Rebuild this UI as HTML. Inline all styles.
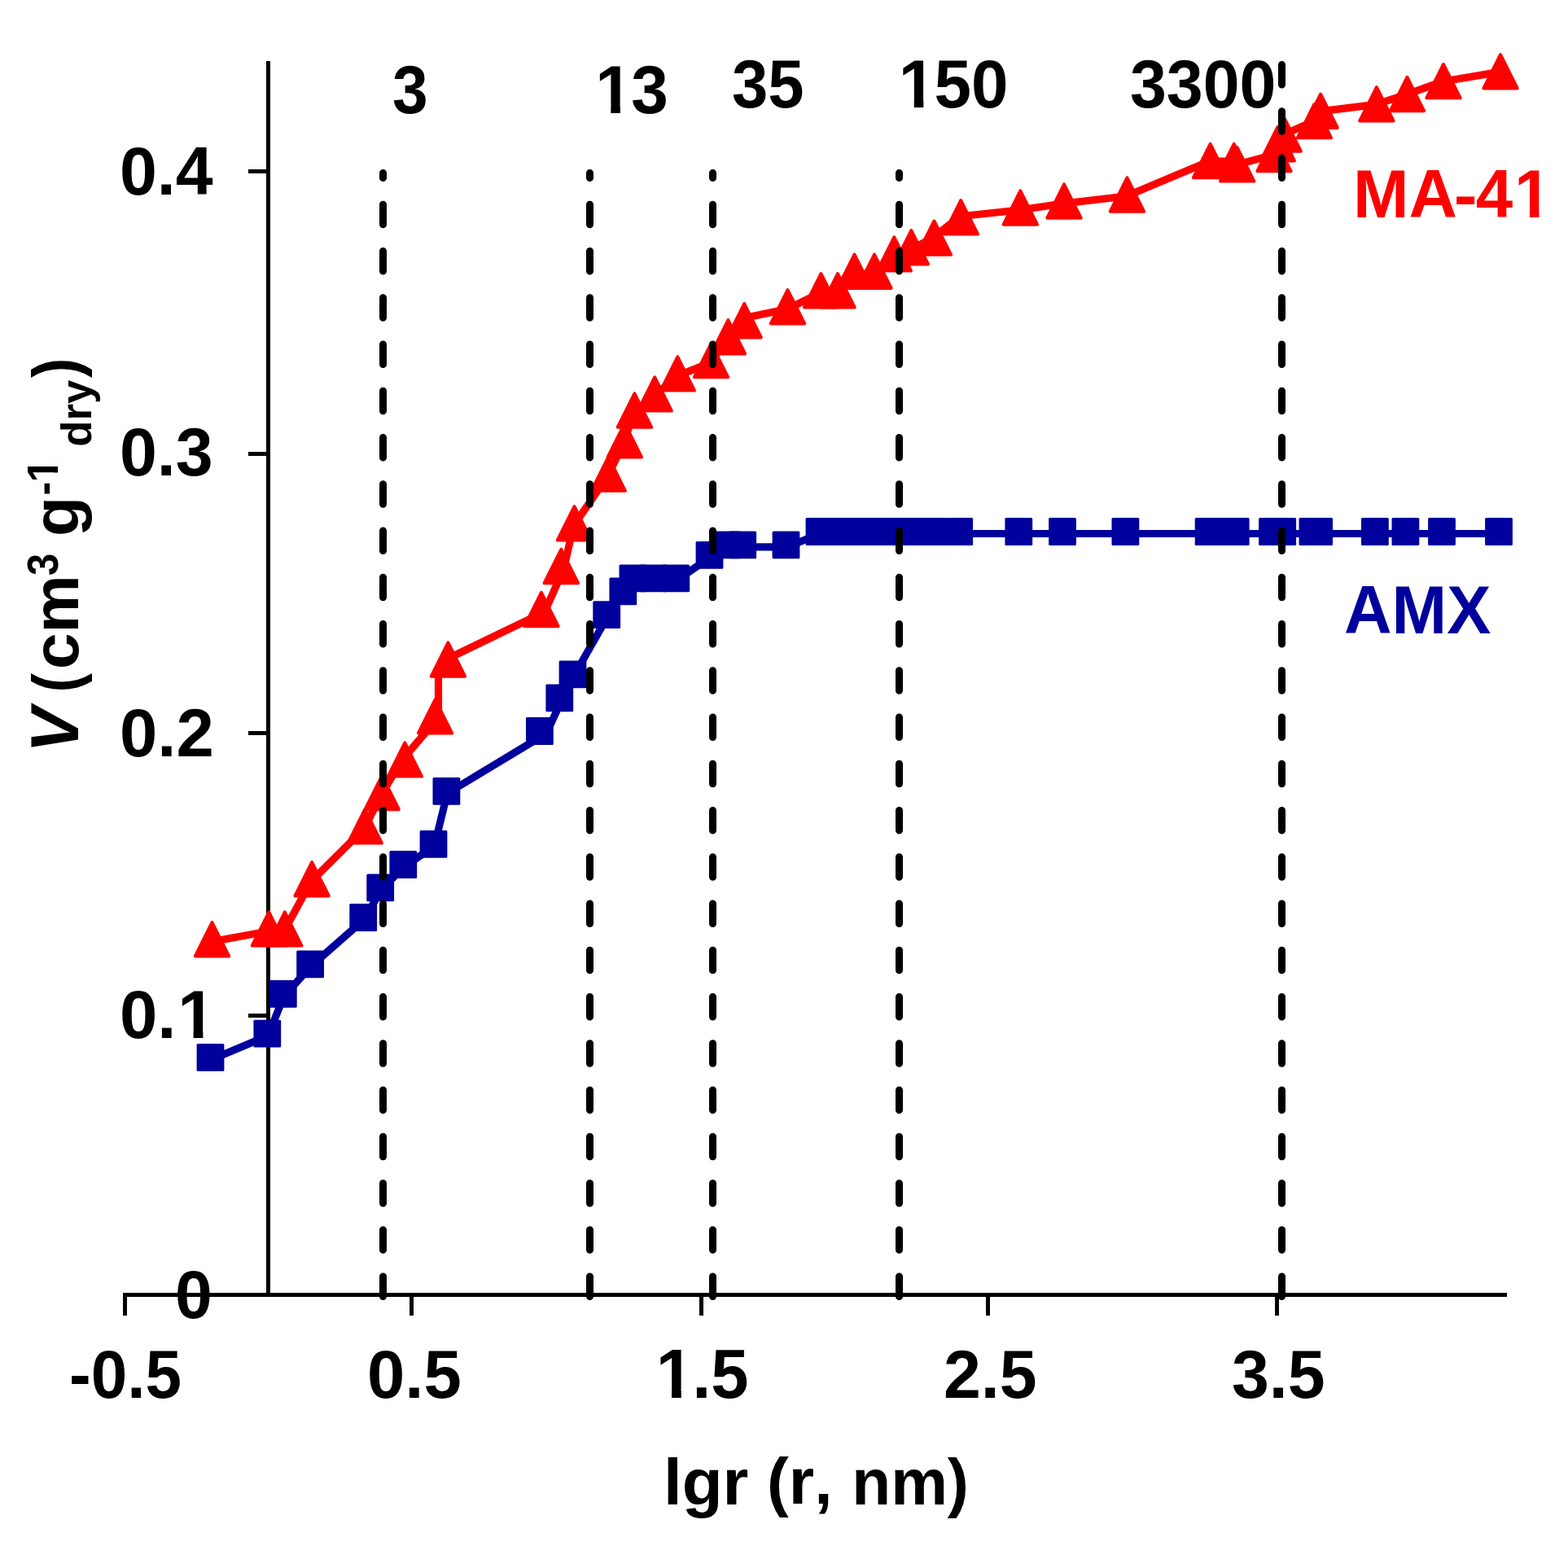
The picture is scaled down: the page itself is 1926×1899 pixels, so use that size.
<!DOCTYPE html><html><head><meta charset="utf-8"><title>Pore volume chart</title><style>html,body{margin:0;padding:0;background:#fff;width:1926px;height:1899px;overflow:hidden}svg{display:block}</style></head><body>
<svg width="1926" height="1899" viewBox="0 0 1926 1899" font-family='"Liberation Sans", Arial, sans-serif' font-weight="bold" style="font-kerning:none">
<rect width="1926" height="1899" fill="#fff"/>
<path d="M329.5 75V1593 M153 1590.5H1851 M305 210.5H329.5 M305 557.4H329.5 M305 900.5H329.5 M305 1247.5H329.5 M305 1590.5H329.5 M153.5 1588V1616 M505.5 1588V1616 M861.5 1588V1616 M1213.5 1588V1616 M1568.5 1588V1616" stroke="#000" stroke-width="5" fill="none"/>
<path d="M259.5 1301.4 L329.3 1272.2 L348.8 1223.3 L382.1 1186.8 L447.2 1129.5 L468.2 1092.9 L496.3 1064.5 L533.5 1039.4 L549.4 974.4 L671 901 L690 859.9 L704.5 830.9 L746.2 757.6 L766.3 728.9 L778.4 712.8 L803.2 712.8 L831.3 712.8 L872.5 684.4 L893.4 671.9 L913.2 671.9 L966.5 671.9 L1007.5 655.5 L1028 655.5 L1048.5 655.5 L1073 655.5 L1097.3 655.5 L1118.3 655.5 L1146.4 655.5 L1179.2 655.5 L1252.3 655.5 L1306 655.5 L1383.4 655.5 L1485.6 655.5 L1514.7 655.5 L1518.7 655.5 L1564 655.5 L1568.3 655.5 L1576.2 655.5 L1613.4 655.5 L1621.1 655.5 L1689.9 655.5 L1727.4 655.5 L1772 655.5 L1842 655.5" stroke="#00009c" stroke-width="9.2" fill="none" stroke-linejoin="round" stroke-linecap="round"/>
<g fill="#00009c"><rect x="241.6" y="1282" width="33.8" height="33.8" rx="1.5"/><rect x="311.4" y="1252.8" width="33.8" height="33.8" rx="1.5"/><rect x="330.9" y="1203.9" width="33.8" height="33.8" rx="1.5"/><rect x="364.2" y="1167.4" width="33.8" height="33.8" rx="1.5"/><rect x="429.3" y="1110.1" width="33.8" height="33.8" rx="1.5"/><rect x="450.3" y="1073.5" width="33.8" height="33.8" rx="1.5"/><rect x="478.4" y="1045.1" width="33.8" height="33.8" rx="1.5"/><rect x="515.6" y="1020" width="33.8" height="33.8" rx="1.5"/><rect x="531.5" y="955" width="33.8" height="33.8" rx="1.5"/><rect x="646" y="881.1" width="33.8" height="33.8" rx="1.5"/><rect x="670.4" y="840.5" width="33.8" height="33.8" rx="1.5"/><rect x="686.6" y="811.5" width="33.8" height="33.8" rx="1.5"/><rect x="728.3" y="738.2" width="33.8" height="33.8" rx="1.5"/><rect x="748.4" y="709.5" width="33.8" height="33.8" rx="1.5"/><rect x="760.5" y="693.4" width="33.8" height="33.8" rx="1.5"/><rect x="785.3" y="693.4" width="33.8" height="33.8" rx="1.5"/><rect x="813.4" y="693.4" width="33.8" height="33.8" rx="1.5"/><rect x="854.6" y="665" width="33.8" height="33.8" rx="1.5"/><rect x="875.5" y="652.5" width="33.8" height="33.8" rx="1.5"/><rect x="895.3" y="652.5" width="33.8" height="33.8" rx="1.5"/><rect x="948.6" y="652.5" width="33.8" height="33.8" rx="1.5"/><rect x="989.6" y="636.1" width="33.8" height="33.8" rx="1.5"/><rect x="1010.1" y="636.1" width="33.8" height="33.8" rx="1.5"/><rect x="1030.6" y="636.1" width="33.8" height="33.8" rx="1.5"/><rect x="1055.1" y="636.1" width="33.8" height="33.8" rx="1.5"/><rect x="1079.4" y="636.1" width="33.8" height="33.8" rx="1.5"/><rect x="1100.4" y="636.1" width="33.8" height="33.8" rx="1.5"/><rect x="1128.5" y="636.1" width="33.8" height="33.8" rx="1.5"/><rect x="1161.3" y="636.1" width="33.8" height="33.8" rx="1.5"/><rect x="1234.4" y="636.1" width="33.8" height="33.8" rx="1.5"/><rect x="1288.1" y="636.1" width="33.8" height="33.8" rx="1.5"/><rect x="1365.5" y="636.1" width="33.8" height="33.8" rx="1.5"/><rect x="1467.7" y="636.1" width="33.8" height="33.8" rx="1.5"/><rect x="1496.8" y="636.1" width="33.8" height="33.8" rx="1.5"/><rect x="1500.8" y="636.1" width="33.8" height="33.8" rx="1.5"/><rect x="1546.1" y="636.1" width="33.8" height="33.8" rx="1.5"/><rect x="1550.4" y="636.1" width="33.8" height="33.8" rx="1.5"/><rect x="1558.3" y="636.1" width="33.8" height="33.8" rx="1.5"/><rect x="1595.5" y="636.1" width="33.8" height="33.8" rx="1.5"/><rect x="1603.2" y="636.1" width="33.8" height="33.8" rx="1.5"/><rect x="1672" y="636.1" width="33.8" height="33.8" rx="1.5"/><rect x="1709.5" y="636.1" width="33.8" height="33.8" rx="1.5"/><rect x="1754.1" y="636.1" width="33.8" height="33.8" rx="1.5"/><rect x="1824.1" y="636.1" width="33.8" height="33.8" rx="1.5"/></g>
<path d="M259.5 1156.75 L329.3 1143.95 L348.8 1143.95 L382.1 1082.75 L447.2 1017.95 L468.2 976.55 L492 936 L538.5 881 L538.5 820 L546 811 L669 751.55 L692.5 698.55 L704.5 645.85 L746.2 585.15 L766.3 543.75 L778.4 507.05 L803.2 486.95 L831.3 461.95 L872.5 445.65 L893.4 416.75 L913.2 390.7 L966.5 379.85 L1007.5 359.85 L1028 359.85 L1048.5 336.25 L1073 336.25 L1097.3 314.95 L1118.3 306.75 L1146.4 291.7 L1179.2 265.8 L1252.3 258.05 L1306 250.05 L1383.4 241.05 L1485.6 198.05 L1514.7 198.05 L1518.7 202.45 L1564 190.15 L1568.3 177.35 L1576.2 165.55 L1613.4 149.15 L1621.1 136.85 L1689.9 128.35 L1727.4 116.05 L1772 100.15 L1842 88.35" stroke="#ff0000" stroke-width="9.2" fill="none" stroke-linejoin="round" stroke-linecap="round"/>
<g fill="#ff0000" stroke="#ff0000" stroke-width="4.0" stroke-linejoin="round"><path d="M260.5 1133.07L281.16 1174.4L239.84 1174.4Z"/><path d="M330.3 1120.27L350.96 1161.6L309.64 1161.6Z"/><path d="M349.8 1120.27L370.46 1161.6L329.14 1161.6Z"/><path d="M383.1 1059.07L403.76 1100.4L362.44 1100.4Z"/><path d="M448.2 994.27L468.86 1035.6L427.54 1035.6Z"/><path d="M469.2 952.87L489.86 994.2L448.54 994.2Z"/><path d="M497.3 912.27L517.96 953.6L476.64 953.6Z"/><path d="M534.5 859.27L555.16 900.6L513.84 900.6Z"/><path d="M550.4 789.37L571.06 830.7L529.74 830.7Z"/><path d="M664.9 727.87L685.56 769.2L644.24 769.2Z"/><path d="M689.3 674.87L709.96 716.2L668.64 716.2Z"/><path d="M705.5 622.17L726.16 663.5L684.84 663.5Z"/><path d="M747.2 561.47L767.86 602.8L726.54 602.8Z"/><path d="M767.3 520.07L787.96 561.4L746.64 561.4Z"/><path d="M779.4 483.37L800.06 524.7L758.74 524.7Z"/><path d="M804.2 463.27L824.86 504.6L783.54 504.6Z"/><path d="M832.3 438.27L852.96 479.6L811.64 479.6Z"/><path d="M873.5 421.97L894.16 463.3L852.84 463.3Z"/><path d="M894.4 393.07L915.06 434.4L873.74 434.4Z"/><path d="M914.2 373.07L934.86 414.4L893.54 414.4Z"/><path d="M967.5 356.17L988.16 397.5L946.84 397.5Z"/><path d="M1008.5 336.17L1029.16 377.5L987.84 377.5Z"/><path d="M1029 336.17L1049.66 377.5L1008.34 377.5Z"/><path d="M1049.5 312.57L1070.16 353.9L1028.84 353.9Z"/><path d="M1074 312.57L1094.66 353.9L1053.34 353.9Z"/><path d="M1098.3 291.27L1118.96 332.6L1077.64 332.6Z"/><path d="M1119.3 283.07L1139.96 324.4L1098.64 324.4Z"/><path d="M1147.4 271.47L1168.06 312.8L1126.74 312.8Z"/><path d="M1180.2 246.17L1200.86 287.5L1159.54 287.5Z"/><path d="M1253.3 234.37L1273.96 275.7L1232.64 275.7Z"/><path d="M1307 226.37L1327.66 267.7L1286.34 267.7Z"/><path d="M1384.4 218.37L1405.06 259.7L1363.74 259.7Z"/><path d="M1486.6 176.87L1507.26 218.2L1465.94 218.2Z"/><path d="M1515.7 176.87L1536.36 218.2L1495.04 218.2Z"/><path d="M1519.7 181.27L1540.36 222.6L1499.04 222.6Z"/><path d="M1565 168.97L1585.66 210.3L1544.34 210.3Z"/><path d="M1569.3 156.17L1589.96 197.5L1548.64 197.5Z"/><path d="M1577.2 144.37L1597.86 185.7L1556.54 185.7Z"/><path d="M1614.4 127.97L1635.06 169.3L1593.74 169.3Z"/><path d="M1622.1 115.67L1642.76 157L1601.44 157Z"/><path d="M1690.9 107.17L1711.56 148.5L1670.24 148.5Z"/><path d="M1728.4 94.87L1749.06 136.2L1707.74 136.2Z"/><path d="M1773 78.97L1793.66 120.3L1752.34 120.3Z"/><path d="M1843 67.17L1863.66 108.5L1822.34 108.5Z"/></g>
<path d="M470.5 1592.5V212.5 M724.5 1592.5V212.5 M875.5 1592.5V212.5 M1104.5 1592.5V212.5 M1574.5 1592.5V79" stroke="#000" stroke-width="9" fill="none" stroke-linecap="round" stroke-dasharray="24.5 32.75"/>
<g fill="#000" transform="matrix(0.9512 0 0 1.0169 -88.63 -471.19)"><text x="600" y="600" font-size="82.5">3</text></g>
<g fill="#000" transform="matrix(0.9939 0 0 1.0153 133.20 -470.27)"><text x="600" y="600" font-size="82.5" clip-path="url(#c1)"><tspan dx="1.81">1</tspan><tspan dx="-1.81">3</tspan></text></g>
<g fill="#000" transform="matrix(0.9659 0 0 1.0169 319.52 -478.19)"><text x="600" y="600" font-size="82.5">35</text></g>
<g fill="#000" transform="matrix(0.9921 0 0 1.0169 506.78 -478.19)"><text x="600" y="600" font-size="82.5" clip-path="url(#c2)"><tspan dx="1.81">1</tspan><tspan dx="-1.81">5</tspan>0</text></g>
<g fill="#000" transform="matrix(0.9775 0 0 1.0169 801.53 -478.19)"><text x="600" y="600" font-size="82.5">3300</text></g>
<g fill="#000" transform="matrix(1.0000 0 0 1.0169 -453.00 -371.19)"><text x="600" y="600" font-size="82.5">0.4</text></g>
<g fill="#000" transform="matrix(1.0000 0 0 1.0169 -453.00 -26.19)"><text x="600" y="600" font-size="82.5">0.3</text></g>
<g fill="#000" transform="matrix(1.0093 0 0 1.0169 -458.58 318.81)"><text x="600" y="600" font-size="82.5">0.2</text></g>
<g fill="#000" transform="matrix(1.0102 0 0 1.0169 -459.15 664.81)"><text x="600" y="600" font-size="82.5" clip-path="url(#c3)">0.<tspan dx="1.81">1</tspan></text></g>
<g fill="#000" transform="matrix(1.0000 0 0 1.0169 -385.00 1008.81)"><text x="600" y="600" font-size="82.5">0</text></g>
<g fill="#000" transform="matrix(0.9708 0 0 1.0169 -497.39 1106.81)"><text x="600" y="600" font-size="82.5">-0.5</text></g>
<g fill="#000" transform="matrix(1.0092 0 0 1.0169 -154.53 1106.81)"><text x="600" y="600" font-size="82.5">0.5</text></g>
<g fill="#000" transform="matrix(1.0095 0 0 1.0345 198.22 1096.28)"><text x="600" y="600" font-size="82.5" clip-path="url(#c4)"><tspan dx="1.81">1</tspan><tspan dx="-1.81">.</tspan>5</text></g>
<g fill="#000" transform="matrix(1.0000 0 0 1.0169 559.00 1106.81)"><text x="600" y="600" font-size="82.5">2.5</text></g>
<g fill="#000" transform="matrix(1.0000 0 0 1.0169 913.00 1106.81)"><text x="600" y="600" font-size="82.5">3.5</text></g>
<g fill="#ff0000" transform="matrix(0.9975 0 0 1.0190 1063.51 -344.48)"><text x="600" y="600" font-size="82.5">MA</text></g>
<g fill="#ff0000" transform="matrix(1.0476 0 0 0.9700 1157.29 -314.81)"><text x="600" y="600" font-size="82.5">-</text></g>
<g fill="#ff0000" transform="matrix(0.9909 0 0 1.0190 1218.16 -344.48)"><text x="600" y="600" font-size="82.5" clip-path="url(#c5)">4<tspan dx="1.81">1</tspan></text></g>
<g fill="#00009c" transform="matrix(0.9833 0 0 1.0172 1061.03 167.66)"><text x="600" y="600" font-size="82.5">AMX</text></g>
<g fill="#000" transform="matrix(0.9908 0 0 0.9692 220.47 1266.58)"><text x="600" y="600" font-size="82.5">lgr</text></g>
<g fill="#000" transform="matrix(0.9753 0 0 0.9564 356.89 1273.49)"><text x="600" y="600" font-size="82.5">(r,</text></g>
<g fill="#000" transform="matrix(0.9507 0 0 0.9603 475.82 1271.42)"><text x="600" y="600" font-size="82.5">nm)</text></g>
<g fill="#000" transform="matrix(1.0172 0 0 1.0132 -514.34 316.87)"><text x="600" y="600" font-size="82.5" font-style="italic" transform="rotate(-90 600 600)">V</text></g>
<g fill="#000" transform="matrix(0.9577 0 0 0.8565 -479.10 336.51)"><text x="600" y="600" font-size="82.5" transform="rotate(-90 600 600)">(</text></g>
<g fill="#000" transform="matrix(0.9674 0 0 0.9712 -484.70 239.21)"><text x="600" y="600" font-size="82.5" transform="rotate(-90 600 600)">cm</text></g>
<g fill="#000" transform="matrix(1.0270 0 0 0.9231 -545.22 153.08)"><text x="600" y="600" font-size="53" transform="rotate(-90 600 600)">3</text></g>
<g fill="#000" transform="matrix(0.9651 0 0 0.9756 -482.55 73.54)"><text x="600" y="600" font-size="82.5" transform="rotate(-90 600 600)">g</text></g>
<g fill="#000" transform="matrix(1.0000 0 0 0.9500 -528.00 38.40)"><text x="600" y="600" font-size="53" transform="rotate(-90 600 600)">-</text></g>
<g fill="#000" transform="matrix(1.0243 0 0 0.9875 -543.69 1.24)"><text x="600" y="600" font-size="53" clip-path="url(#c6)" transform="rotate(-90 600 600)"><tspan dx="1.16">1</tspan></text></g>
<g fill="#000" transform="matrix(0.9740 0 0 0.9950 -472.31 -48.21)"><text x="600" y="600" font-size="53" transform="rotate(-90 600 600)">dry</text></g>
<g fill="#000" transform="matrix(0.9615 0 0 0.8870 -481.27 -68.17)"><text x="600" y="600" font-size="82.5" transform="rotate(-90 600 600)">)</text></g>
<defs><clipPath id="c1" clipPathUnits="userSpaceOnUse"><path d="M-5000 -5000H7000V7000H-5000ZM605.84 589.93H620.91V602.42H605.84ZM632.55 589.93H646.53V602.42H632.55Z" clip-rule="evenodd"/></clipPath><clipPath id="c2" clipPathUnits="userSpaceOnUse"><path d="M-5000 -5000H7000V7000H-5000ZM605.84 589.93H620.91V602.42H605.84ZM632.55 589.93H646.53V602.42H632.55Z" clip-rule="evenodd"/></clipPath><clipPath id="c3" clipPathUnits="userSpaceOnUse"><path d="M-5000 -5000H7000V7000H-5000ZM674.64 589.93H689.71V602.42H674.64ZM701.35 589.93H715.33V602.42H701.35Z" clip-rule="evenodd"/></clipPath><clipPath id="c4" clipPathUnits="userSpaceOnUse"><path d="M-5000 -5000H7000V7000H-5000ZM605.84 589.93H620.91V602.42H605.84ZM632.55 589.93H646.53V602.42H632.55Z" clip-rule="evenodd"/></clipPath><clipPath id="c5" clipPathUnits="userSpaceOnUse"><path d="M-5000 -5000H7000V7000H-5000ZM651.72 589.93H666.79V602.42H651.72ZM678.43 589.93H692.41V602.42H678.43Z" clip-rule="evenodd"/></clipPath><clipPath id="c6" clipPathUnits="userSpaceOnUse"><path d="M-5000 -5000H7000V7000H-5000ZM603.75 593.53H613.43V601.55H603.75ZM620.91 593.53H629.89V601.55H620.91Z" clip-rule="evenodd"/></clipPath></defs>
</svg></body></html>
